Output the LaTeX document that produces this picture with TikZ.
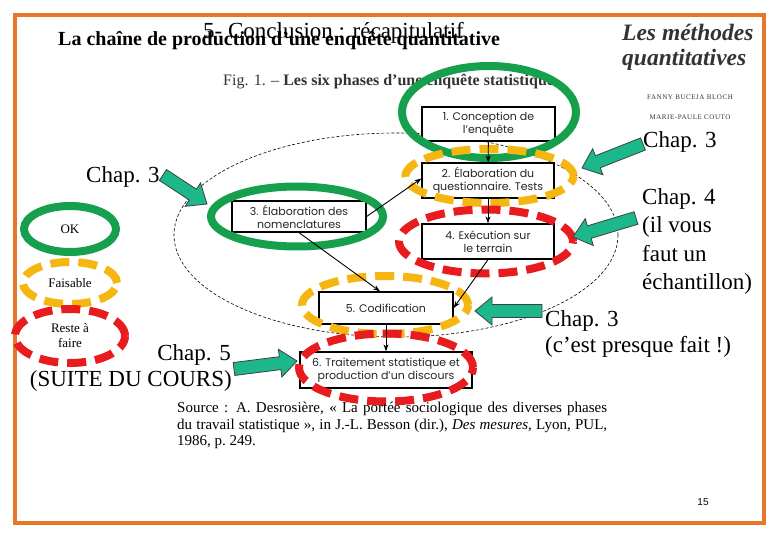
\documentclass[tikz,border=0pt]{standalone}
\usepackage{fontspec}
\setmainfont{Liberation Serif}
\newfontfamily\boxfont{Poppins}
\newfontfamily\pnfont{Liberation Sans}
\usetikzlibrary{arrows.meta,calc,shapes.geometric}
\definecolor{frameor}{RGB}{230,118,40}
\definecolor{okgreen}{RGB}{22,160,78}
\definecolor{maybeyel}{RGB}{246,182,18}
\definecolor{todored}{RGB}{232,28,30}
\definecolor{tealc}{RGB}{28,184,140}
\newcommand\tealarrow[2]{%
  \coordinate (th) at ($(#2)!17pt!(#1)$);
  \filldraw[fill=tealc, draw=black!75, line width=0.8pt, line join=miter]
    ($(#1)!6.5pt!90:(#2)$) -- ($(th)!6.5pt!90:(#2)$) -- ($(th)!14pt!90:(#2)$) -- (#2)
    -- ($(th)!14pt!-90:(#2)$) -- ($(th)!6.5pt!-90:(#2)$) -- ($(#1)!6.5pt!-90:(#2)$) -- cycle;}
\begin{document}
\begin{tikzpicture}[x=1pt,y=-1pt,
  box/.style={draw=black, line width=1.3pt, fill=white, inner sep=0pt, align=center,
    font=\boxfont\fontsize{11}{13}\selectfont, text=black!85},
  flow/.style={line width=0.9pt, -{Stealth[length=7pt,width=5pt]}},
  okring/.style={draw=okgreen, line width=8pt, ellipse, inner sep=0pt},
  mayring/.style={draw=maybeyel, line width=8pt, ellipse, inner sep=0pt, dash pattern=on 19pt off 9pt},
  todoring/.style={draw=todored, line width=8pt, ellipse, inner sep=0pt, dash pattern=on 19pt off 9pt},
  chap/.style={font=\fontsize{23}{28}\selectfont, inner sep=0pt},
  legend/.style={font=\fontsize{13}{15}\selectfont, align=center}]
\useasboundingbox (0,0) rectangle (780,540);
\fill[white] (0,0) rectangle (780,540);
% frame
\draw[frameor, line width=4pt] (15,15) rectangle (764,523);
% figure caption (under the rings)
\node[anchor=base west, inner sep=0pt, font=\fontsize{16}{18}\selectfont, text=black!80] (fig) at (223,86) {Fig. 1. – \textbf{Les six phases d’une enquête statistique}};
% thin dashed ellipse
\draw[line width=0.6pt, dash pattern=on 3pt off 2pt] (396,235) ellipse [x radius=222pt, y radius=102pt];
% boxes
\node[box, minimum width=133pt, minimum height=34pt] (b1) at (488.5,124) {1. Conception de\\l’enquête};
\node[box, minimum width=132pt, minimum height=35pt] (b2) at (488,180.5) {2. Élaboration du\\questionnaire. Tests};
\node[box, minimum width=134pt, minimum height=31pt] (b3) at (299,216.5) {3. Élaboration des\\nomenclatures};
\node[box, minimum width=132pt, minimum height=35pt] (b4) at (488,241.5) {4. Exécution sur\\le terrain};
\node[box, minimum width=134pt, minimum height=32pt] (b5) at (386,308) {5. Codification};
\node[box, minimum width=172pt, minimum height=36pt] (b6) at (386,370) {6. Traitement statistique et\\production d’un discours};
% rings
\node[okring, minimum width=174pt, minimum height=92pt] (r1) at (489,112) {};
\node[mayring, minimum width=168pt, minimum height=54pt] (r2) at (489.5,176) {};
\node[okring, minimum width=172pt, minimum height=60pt] (r3) at (297,216.5) {};
\node[todoring, minimum width=174pt, minimum height=64pt] (r4) at (486,241.5) {};
\node[mayring, minimum width=166pt, minimum height=58pt] (r5) at (385,305) {};
\node[todoring, minimum width=174pt, minimum height=68pt] (r6) at (386,367.5) {};
% flows
\draw[flow] (b1) -- (b2);
\draw[flow] (b2) -- (b4);
\draw[flow] (b3.east) -- ($(b2.west)+(0,-2)$);
\draw[flow] (b3.south) -- ($(b5.north)+(-6,0)$);
\draw[flow] (b4.south) -- (b5.east);
\draw[flow] (b5) -- (b6);
% legend
\node[okring, legend, minimum width=92pt, minimum height=46pt] (lok) at (70,229) {OK};
\node[mayring, legend, minimum width=94pt, minimum height=42pt] (lmay) at (70,283) {Faisable};
\node[todoring, legend, minimum width=110pt, minimum height=54pt] (ltodo) at (70,336) {Reste à\\faire};
% teal arrows
\coordinate (t1a) at (163,175); \coordinate (t1b) at (207,204);
\coordinate (t2a) at (643,144); \coordinate (t2b) at (582,168);
\coordinate (t3a) at (636,218); \coordinate (t3b) at (573,237);
\coordinate (t4a) at (542,311); \coordinate (t4b) at (475,311);
\coordinate (t5a) at (234,369); \coordinate (t5b) at (297,361);
\tealarrow{t1a}{t1b}
\tealarrow{t2a}{t2b}
\tealarrow{t3a}{t3b}
\tealarrow{t4a}{t4b}
\tealarrow{t5a}{t5b}
% titles
\node[anchor=base west, inner sep=0pt, font=\fontsize{23}{26}\selectfont] (title) at (203,39) {5- Conclusion : récapitulatif};
\node[anchor=base west, inner sep=0pt, font=\bfseries\fontsize{20}{24}\selectfont] (sub) at (58,46) {La chaîne de production d’une enquête quantitative};
% book
\node[anchor=base west, inner sep=0pt, font=\bfseries\itshape\fontsize{23.5}{26}\selectfont, text=black!80] (bk1) at (622,41) {Les méthodes};
\node[anchor=base west, inner sep=0pt, font=\bfseries\itshape\fontsize{23.5}{26}\selectfont, text=black!80] (bk2) at (622,66) {quantitatives};
\node[anchor=base, inner sep=0pt, font=\fontsize{7}{8}\selectfont\addfontfeature{LetterSpace=8}, text=black!80] (au1) at (690,100) {FANNY BUCEJA BLOCH};
\node[anchor=base, inner sep=0pt, font=\fontsize{7}{8}\selectfont\addfontfeature{LetterSpace=8}, text=black!80] (au2) at (690,120) {MARIE-PAULE COUTO};
% chapter notes
\node[chap, anchor=base west] (c1) at (86,183) {Chap. 3};
\node[chap, anchor=base west] (c2) at (643,148) {Chap. 3};
\node[chap, anchor=base west] (c3a) at (642,205) {Chap. 4};
\node[chap, anchor=base west] (c3b) at (642,233) {(il vous};
\node[chap, anchor=base west] (c3c) at (642,262) {faut un};
\node[chap, anchor=base west] (c3d) at (642,290) {échantillon)};
\node[chap, anchor=base west] (c4a) at (545,327) {Chap. 3};
\node[chap, anchor=base west] (c4b) at (545,353) {(c’est presque fait !)};
\node[chap, anchor=base east] (c5a) at (231,360) {Chap. 5};
\node[chap, anchor=base east] (c5b) at (232,387) {(SUITE DU COURS)};
% source
\node[anchor=north west, inner sep=0pt, text width=430pt, align=justify, font=\fontsize{15}{16.5}\selectfont] (src) at (177,402)
  {Source~: A. Desrosière, «~La portée sociologique des diverses phases\linebreak du travail statistique~», in J.-L. Besson (dir.), \textit{Des mesures}, Lyon, PUL,\linebreak 1986, p.~249.};
% page number
\node[inner sep=0pt, font=\pnfont\fontsize{10}{12}\selectfont] (pg) at (703,502) {15};
\end{tikzpicture}
\end{document}
